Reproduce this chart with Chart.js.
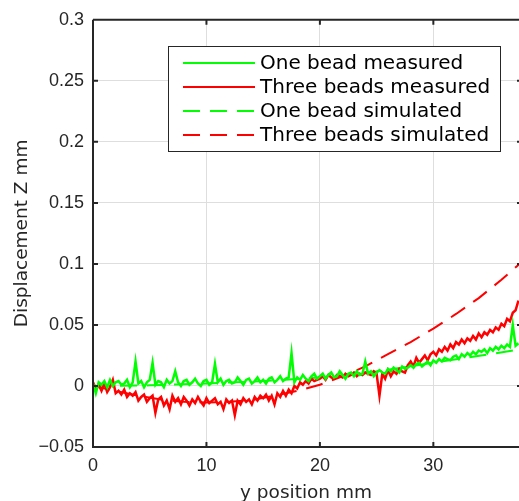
<!DOCTYPE html>
<html>
<head>
<meta charset="utf-8">
<script src="https://cdn.jsdelivr.net/npm/chart.js@4.4.0/dist/chart.umd.min.js"></script>
<style>
    html, body { margin: 0; padding: 0; background: #fff; }
</style>
</head>
<body>
<canvas id="myChart" width="519" height="501"></canvas>
<script>
// y position (mm) of the measured samples
var posMeasured = [
    0, 0.25, 0.5, 0.75, 1, 1.25, 1.5, 1.75, 2, 2.25, 2.5, 2.75, 3, 3.25, 3.5, 3.75, 4, 4.25, 4.5, 4.75,
    5, 5.25, 5.5, 5.75, 6, 6.25, 6.5, 6.75, 7, 7.25, 7.5, 7.75, 8, 8.25, 8.5, 8.75, 9, 9.25, 9.5, 9.75,
    10, 10.25, 10.5, 10.75, 11, 11.25, 11.5, 11.75, 12, 12.25, 12.5, 12.75, 13, 13.25, 13.5, 13.75, 14, 14.25, 14.5, 14.75,
    15, 15.25, 15.5, 15.75, 16, 16.25, 16.5, 16.75, 17, 17.25, 17.5, 17.75, 18, 18.25, 18.5, 18.75, 19, 19.25, 19.5, 19.75,
    20, 20.25, 20.5, 20.75, 21, 21.25, 21.5, 21.75, 22, 22.25, 22.5, 22.75, 23, 23.25, 23.5, 23.75, 24, 24.25, 24.5, 24.75,
    25, 25.25, 25.5, 25.75, 26, 26.25, 26.5, 26.75, 27, 27.25, 27.5, 27.75, 28, 28.25, 28.5, 28.75, 29, 29.25, 29.5, 29.75,
    30, 30.25, 30.5, 30.75, 31, 31.25, 31.5, 31.75, 32, 32.25, 32.5, 32.75, 33, 33.25, 33.5, 33.75, 34, 34.25, 34.5, 34.75,
    35, 35.25, 35.5, 35.75, 36, 36.25, 36.5, 36.75, 37, 37.25, 37.5
];

// One bead measured (mm)
var oneBeadMeasured = [
    0.002, -0.006, 0.003, 0.001, 0.004, -0.001, 0.005, 0.000, 0.003,
    0.004, 0.001, 0.002, 0.005, -0.001, 0.003,
    0.020,
    0.002, 0.004, -0.001, 0.003, 0.005,
    0.019,
    0.001, 0.004, 0.003, -0.001, 0.005, 0.002, 0.004,
    0.012,
    0.003, 0.000, 0.004, 0.005, 0.001, 0.003, 0.006, 0.002, 0.000, 0.004, 0.005, 0.001, 0.003,
    0.018,
    0.003, 0.006, 0.001, 0.004, 0.005, 0.002, 0.003, 0.007, 0.004, 0.001, 0.005, 0.006, 0.002, 0.004, 0.007, 0.003,
    0.005, 0.002, 0.006, 0.007, 0.003, 0.005, 0.008, 0.004, 0.006, 0.007,
    0.027,
    0.003, 0.007, 0.005, 0.009, 0.006, 0.004, 0.008, 0.010, 0.006,
    0.008, 0.010, 0.006, 0.009, 0.011, 0.007, 0.008, 0.012, 0.009, 0.006, 0.010, 0.011, 0.008, 0.012, 0.009, 0.010,
    0.020,
    0.010, 0.012, 0.008, 0.011,
    0.013, 0.011, 0.010, 0.014, 0.012, 0.015, 0.013, 0.011, 0.016, 0.014, 0.015,
    0.017, 0.015, 0.018, 0.019, 0.016, 0.018, 0.020, 0.017,
    0.021, 0.019, 0.022, 0.020, 0.023, 0.022, 0.021, 0.024, 0.025, 0.022, 0.026, 0.024,
    0.027, 0.025, 0.028, 0.026, 0.029, 0.028, 0.030, 0.027,
    0.031, 0.029, 0.032, 0.030, 0.033, 0.031, 0.034, 0.032, 0.050, 0.033, 0.035
];

// Three beads measured (mm)
var threeBeadsMeasured = [
    0.003, -0.002, 0.001, -0.004, 0.002, -0.005, -0.001, 0.005, -0.006,
    -0.004, -0.007, -0.003, -0.009, -0.006, -0.008,
    -0.005, -0.012, -0.009, -0.007, -0.013, -0.010,
    -0.008, -0.022, -0.011, -0.009, -0.016, -0.012, -0.019, -0.008,
    -0.013, -0.010, -0.015, -0.009, -0.012, -0.016, -0.011, -0.014, -0.009, -0.013, -0.016, -0.010, -0.014, -0.012,
    -0.010, -0.015, -0.013, -0.019, -0.011, -0.014, -0.012, -0.024, -0.012, -0.015, -0.010, -0.013, -0.011, -0.015, -0.009, -0.012, -0.008,
    -0.010, -0.007, -0.012, -0.008, -0.015, -0.006, -0.009, -0.004, -0.008, -0.003,
    -0.006, 0.000, -0.002, 0.003, 0.001, 0.004, 0.002, 0.006, 0.004, 0.005,
    0.006, 0.008, 0.005, 0.009, 0.007, 0.006, 0.009, 0.008, 0.007, 0.010, 0.008, 0.009, 0.011, 0.008, 0.010, 0.009, 0.011, 0.010, 0.009, 0.012, 0.010,
    -0.008,
    0.010, 0.006, 0.013, 0.008, 0.012, 0.010, 0.014, 0.012, 0.011, 0.017,
    0.020, 0.016, 0.023, 0.019, 0.022, 0.025, 0.021, 0.026,
    0.028, 0.025, 0.030, 0.028, 0.032, 0.029, 0.034, 0.031, 0.036, 0.034, 0.038, 0.035,
    0.039, 0.037, 0.041, 0.038, 0.043, 0.040, 0.044, 0.042,
    0.046, 0.044, 0.048, 0.046, 0.051, 0.049, 0.055, 0.053, 0.060, 0.062, 0.070
];

// simulated curves
var posSimOne = [0, 5, 10, 15, 20, 25, 30, 35, 37.6];
var oneBeadSimulated = [0, 0.0005, 0.002, 0.004, 0.007, 0.012, 0.019, 0.026, 0.030];

var posSimThree = [0, 2, 4, 6, 8, 10, 12, 14, 16, 18, 20, 22, 24, 26, 28, 30, 32, 34, 36, 37.6];
var threeBeadsSimulated = [0, -0.004, -0.008, -0.011, -0.013, -0.0135, -0.013, -0.0115, -0.008, -0.004,
    0.001, 0.008, 0.016, 0.026, 0.036, 0.047, 0.059, 0.072, 0.087, 0.100];

var seriesNames = ["One bead measured", "Three beads measured", "One bead simulated", "Three beads simulated"];

// ticks
var xTicks = [0, 10, 20, 30];
var yTicks = [-0.05, 0, 0.05, 0.1, 0.15, 0.2, 0.25, 0.3];
var yTickLabels = ["\u22120.05", "0", "0.05", "0.1", "0.15", "0.2", "0.25", "0.3"];

var toPoints = function (xs, ys) {
    return xs.map(function (x, i) { return { x: x, y: ys[i] }; });
};

var axisColor = "#262626";
var tickFont = { family: "'Liberation Sans', Arial, sans-serif", size: 18 };
var labelFont = "'DejaVu Sans', sans-serif";

// box, inner ticks
var framePlugin = {
    id: "frame",
    afterDatasetsDraw: function (chart) {
        var ctx = chart.ctx;
        var a = chart.chartArea;
        var xs = chart.scales.x, ys = chart.scales.y;
        ctx.save();
        ctx.strokeStyle = axisColor;
        ctx.lineWidth = 2;
        ctx.beginPath();
        ctx.moveTo(a.left, a.top);
        ctx.lineTo(a.right + 5, a.top);
        ctx.moveTo(a.left, a.top);
        ctx.lineTo(a.left, a.bottom);
        ctx.lineTo(a.right + 5, a.bottom);
        xTicks.forEach(function (v) {
            var px = xs.getPixelForValue(v);
            ctx.moveTo(px, a.bottom);
            ctx.lineTo(px, a.bottom - 5);
            ctx.moveTo(px, a.top);
            ctx.lineTo(px, a.top + 5);
        });
        yTicks.forEach(function (v) {
            var py = ys.getPixelForValue(v);
            ctx.moveTo(a.left, py);
            ctx.lineTo(a.left + 5, py);
            ctx.moveTo(a.right, py);
            ctx.lineTo(a.right - 2, py);
        });
        ctx.stroke();
        ctx.restore();
    },
};

// legend box at top right
var legendPlugin = {
    id: "boxLegend",
    afterDraw: function (chart) {
        var ctx = chart.ctx;
        ctx.save();
        ctx.fillStyle = "#fff";
        ctx.fillRect(168, 46, 333, 106);
        ctx.strokeStyle = axisColor;
        ctx.lineWidth = 1;
        ctx.strokeRect(168.5, 46.5, 332, 105);
        ctx.font = "20px " + labelFont;
        ctx.textBaseline = "middle";
        chart.data.datasets.forEach(function (ds, i) {
            var y = 63 + i * 24;
            ctx.strokeStyle = ds.borderColor;
            ctx.lineWidth = 2;
            ctx.setLineDash(ds.borderDash || []);
            ctx.beginPath();
            ctx.moveTo(183, y);
            ctx.lineTo(255, y);
            ctx.stroke();
            ctx.setLineDash([]);
            ctx.fillStyle = "#000";
            ctx.fillText(ds.label, 260, y + 1);
        });
        ctx.restore();
    },
};

var ctx = document.getElementById("myChart").getContext("2d");
var myChart = new Chart(ctx, {
    type: "line",
    data: {
        datasets: [
            {
                label: seriesNames[0],
                data: toPoints(posMeasured, oneBeadMeasured),
                borderColor: "#00ff00",
                borderWidth: 2.5,
            },
            {
                label: seriesNames[1],
                data: toPoints(posMeasured, threeBeadsMeasured),
                borderColor: "#ff0000",
                borderWidth: 2.5,
            },
            {
                label: seriesNames[2],
                data: toPoints(posSimOne, oneBeadSimulated),
                borderColor: "#00ff00",
                borderWidth: 2,
                borderDash: [17, 10],
            },
            {
                label: seriesNames[3],
                data: toPoints(posSimThree, threeBeadsSimulated),
                borderColor: "#ff0000",
                borderWidth: 2,
                borderDash: [17, 10],
            },
        ],
    },
    options: {
        responsive: false,
        animation: false,
        events: [],
        elements: { point: { radius: 0 }, line: { tension: 0 } },
        layout: { padding: { top: 18, right: 0, left: 0, bottom: 0 } },
        scales: {
            x: {
                type: "linear",
                min: 0,
                max: 37.55,
                afterBuildTicks: function (s) {
                    s.ticks = xTicks.map(function (v) { return { value: v }; });
                },
                afterFit: function (s) { s.height = 54; },
                grid: { color: "#dedede", lineWidth: 1, drawTicks: false },
                border: { display: false },
                ticks: { color: axisColor, font: tickFont, padding: 8, maxRotation: 0 },
                title: {
                    display: true,
                    text: "y position mm",
                    color: axisColor,
                    font: { family: labelFont, size: 18.5 },
                    padding: { top: 0, bottom: -3 },
                },
            },
            y: {
                min: -0.05,
                max: 0.3,
                afterBuildTicks: function (s) {
                    s.ticks = yTicks.map(function (v) { return { value: v }; });
                },
                afterFit: function (s) { s.width = 93; },
                grid: { color: "#dedede", lineWidth: 1, drawTicks: false },
                border: { display: false },
                ticks: {
                    color: axisColor,
                    font: tickFont,
                    padding: 9,
                    callback: function (v) {
                        var i = yTicks.indexOf(Math.round(v * 1000) / 1000);
                        return i >= 0 ? yTickLabels[i] : "";
                    },
                },
                title: {
                    display: true,
                    text: "Displacement Z mm",
                    color: axisColor,
                    font: { family: labelFont, size: 18.5 },
                    padding: { top: 11, bottom: 0 },
                },
            },
        },
        plugins: {
            legend: { display: false },
            tooltip: { enabled: false },
        },
    },
    plugins: [framePlugin, legendPlugin],
});
</script>
</body>
</html>
